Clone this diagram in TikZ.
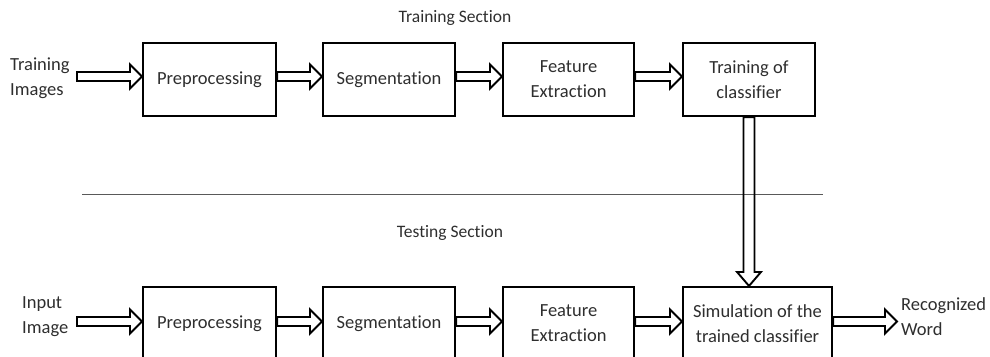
\documentclass[tikz,border=0pt]{standalone}
\usepackage{fontspec}
\setmainfont{Carlito}[Ligatures=NoCommon]
\usetikzlibrary{calc}
\definecolor{txt}{HTML}{2E2E2E}
\tikzset{
  box/.style={draw, line width=2.1pt, minimum height=73pt, align=center,
    font=\fontsize{18.5}{25}\selectfont, text=txt, inner sep=2pt},
  lbl/.style={align=left, font=\fontsize{18.5}{25}\selectfont, text=txt, inner sep=0pt},
  ttl/.style={font=\fontsize{17.5}{22}\selectfont, text=txt, inner sep=0pt},
  hollow/.style={draw, line width=1.9pt, line join=miter},
}
\newcommand\harrow[2]{%
  \draw[hollow] let \p1=(#1), \p2=(#2) in
    (\x1,\y1+4.5pt) -- (\x2-12pt,\y1+4.5pt) -- (\x2-12pt,\y1+12pt) -- (\x2,\y1)
    -- (\x2-12pt,\y1-12pt) -- (\x2-12pt,\y1-4.5pt) -- (\x1,\y1-4.5pt) -- cycle;}
\newcommand\varrow[2]{%
  \draw[hollow] let \p1=(#1), \p2=(#2) in
    (\x1-5.5pt,\y1) -- (\x1-5.5pt,\y2+14pt) -- (\x1-12pt,\y2+14pt) -- (\x1,\y2)
    -- (\x1+12pt,\y2+14pt) -- (\x1+5.5pt,\y2+14pt) -- (\x1+5.5pt,\y1) -- cycle;}
\begin{document}
\begin{tikzpicture}[x=1pt,y=-1pt]
\useasboundingbox (0,0) rectangle (990,356);
\clip (0,0) rectangle (990,356);

\node[ttl] (trs) at (455,18) {Training Section};
\node[ttl] (tes) at (450,233) {Testing Section};

% top row
\node[box, minimum width=133pt] (p1) at (209.5,79.5) {Preprocessing};
\node[box, minimum width=132pt] (s1) at (389,79.5) {Segmentation};
\node[box, minimum width=131pt] (f1) at (568.5,79.5) {Feature\\Extraction};
\node[box, minimum width=132pt] (t1) at (749,79.5) {Training of\\classifier};
\node[lbl, anchor=west] (tin) at (10,78) {Training\\Images};
\coordinate (ts) at (77,76.5);

% bottom row
\node[box, minimum width=133pt] (p2) at (209.5,323.5) {Preprocessing};
\node[box, minimum width=132pt] (s2) at (389,323.5) {Segmentation};
\node[box, minimum width=131pt] (f2) at (568.5,323.5) {Feature\\Extraction};
\node[box, minimum width=149pt] (c2) at (757.5,323.5) {Simulation of the\\trained classifier};
\node[lbl, anchor=west] (iin) at (22,317) {Input\\Image};
\node[lbl, anchor=west] (out) at (901,317) {Recognized\\Word};
\coordinate (is) at (77,321.5);
\coordinate (oe) at (897,321.5);

% separator
\draw[gray!70!black, line width=0.9pt] (82,194) -- (823,194);

% arrows top
\harrow{ts}{$(p1.west)+(0,-3)$}
\harrow{$(p1.east)+(0,-3)$}{s1.west}
\harrow{$(s1.east)+(0,-3)$}{f1.west}
\harrow{$(f1.east)+(0,-3)$}{t1.west}
% arrows bottom
\harrow{is}{p2.west}
\harrow{$(p2.east)+(0,-2)$}{s2.west}
\harrow{$(s2.east)+(0,-2)$}{f2.west}
\harrow{$(f2.east)+(0,-2)$}{c2.west}
\harrow{$(c2.east)+(0,-2)$}{oe}
% vertical
\varrow{t1.south}{t1.south |- c2.north}
\end{tikzpicture}
\end{document}
